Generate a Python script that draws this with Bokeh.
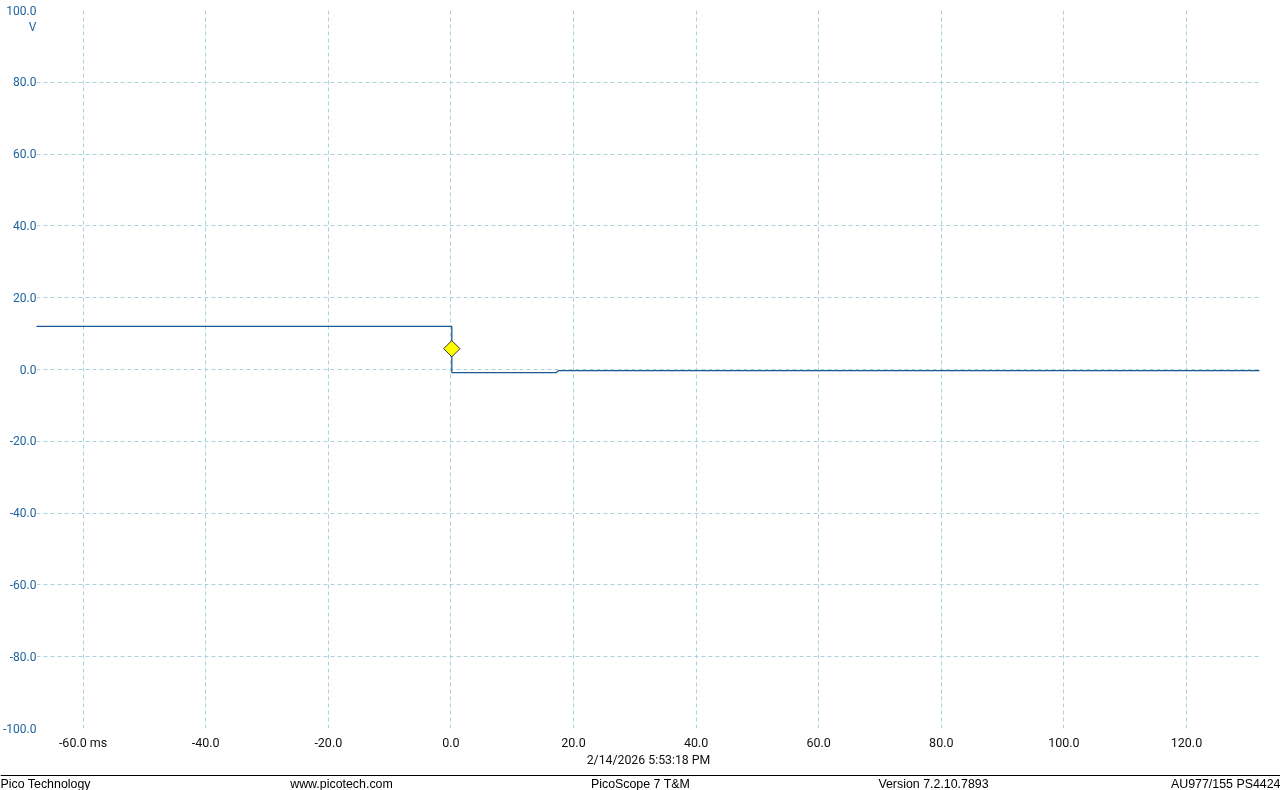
import math
from bokeh.plotting import figure
from bokeh.models import (Range1d, FixedTicker, NumeralTickFormatter, ColumnDataSource)
from bokeh.core.properties import value
from bokeh.embed import file_html
from bokeh.resources import INLINE

# ---- data ----
time_ms = [-67.7, 0.15, 0.15, 17.2, 17.6, 131.9]
volts = [12.0, 12.0, -0.85, -0.85, -0.3, -0.3]
trigger_t = [0.15]
trigger_v = [5.8]
x_ticks = [-60, -40, -20, 0, 20, 40, 60, 80, 100, 120]
y_ticks = [-100, -80, -60, -40, -20, 0, 20, 40, 60, 80, 100]
x_unit = "ms"
y_unit = "V"
timestamp = "2/14/2026 5:53:18 PM"
footer_texts = ["Pico Technology", "www.picotech.com", "PicoScope 7 T&M",
                "Version 7.2.10.7893", "AU977/155 PS4424"]

# ---- style ----
LINE_BLUE = "#1d5a93"
LABEL_BLUE = "#21639f"
GRID = "#a9d3d8"
TICK_FONT = "Roboto"
FOOT_FONT = "Liberation Sans"
UNIT_POS = y_ticks[-1] - 4.7   # where the unit text sits under the top label

p = figure(width=1280, height=774, output_backend="svg", toolbar_location=None,
           x_range=Range1d(-67.6, 132.07), y_range=Range1d(-100, 100),
           min_border_left=35, min_border_right=20, min_border_top=10,
           min_border_bottom=46,
           styles={"position": "fixed", "left": "0px", "top": "0px"})
p.outline_line_color = None
p.background_fill_color = "white"
p.border_fill_color = "white"

for ax in (p.xaxis[0], p.yaxis[0]):
    ax.axis_line_color = None
    ax.major_tick_line_color = None
    ax.minor_tick_line_color = None
    ax.major_tick_out = 0
    ax.major_tick_in = 0
    ax.minor_tick_out = 0
    ax.minor_tick_in = 0
    ax.major_label_text_font = TICK_FONT

p.xaxis.ticker = FixedTicker(ticks=x_ticks)
p.xaxis.formatter = NumeralTickFormatter(format="0.0")
p.xaxis.major_label_overrides = {x_ticks[0]: f"{x_ticks[0]:.1f} {x_unit}"}
p.xaxis.major_label_text_color = "#111111"
p.xaxis.major_label_text_font_size = "12.5px"
p.xaxis.major_label_standoff = 6
p.xaxis.axis_label = timestamp
p.xaxis.axis_label_text_font = TICK_FONT
p.xaxis.axis_label_text_font_style = "normal"
p.xaxis.axis_label_text_font_size = "12.3px"
p.xaxis.axis_label_text_color = "#111111"
p.xaxis.axis_label_standoff = 0

p.yaxis.ticker = FixedTicker(ticks=y_ticks + [UNIT_POS])
p.yaxis.formatter = NumeralTickFormatter(format="0.0")
p.yaxis.major_label_overrides = {UNIT_POS: y_unit}
p.yaxis.major_label_text_color = LABEL_BLUE
p.yaxis.major_label_text_font_size = "12px"
p.yaxis.major_label_standoff = 0

p.xgrid.ticker = FixedTicker(ticks=x_ticks)
p.ygrid.ticker = FixedTicker(ticks=y_ticks)
for g in (p.xgrid[0], p.ygrid[0]):
    g.grid_line_color = GRID
    g.grid_line_dash = "4 3"
    g.grid_line_width = 1

src = ColumnDataSource(dict(t=time_ms, v=volts))
p.line("t", "v", source=src, line_color=LINE_BLUE, line_width=1.3)

p.scatter(trigger_t, trigger_v, marker="square", size=11.5, angle=math.pi / 4,
          fill_color="#ffff00", line_color="#333333", line_width=1)

# ---- footer ----
f = figure(width=1280, height=16, output_backend="svg", toolbar_location=None,
           x_range=Range1d(0, 1280), y_range=Range1d(0, 16),
           min_border=0, min_border_left=0, min_border_right=0,
           min_border_top=0, min_border_bottom=0,
           styles={"position": "fixed", "left": "0px", "top": "774px"})
f.axis.visible = False
f.grid.visible = False
f.outline_line_color = None
f.background_fill_color = "white"
f.border_fill_color = "white"
f.segment(x0=[0], y0=[15], x1=[1280], y1=[15], line_color="black", line_width=1.2)
foot_x = [0, 341, 640, 933, 1280]
foot_align = ["left", "center", "center", "center", "right"]
f.text(x=foot_x, y=[7] * 5, text=footer_texts, text_align=foot_align,
       text_baseline="middle", text_font=value(FOOT_FONT), text_font_size="12.4px",
       text_color="black")

open("out.html", "w").write(file_html([p, f], INLINE))
